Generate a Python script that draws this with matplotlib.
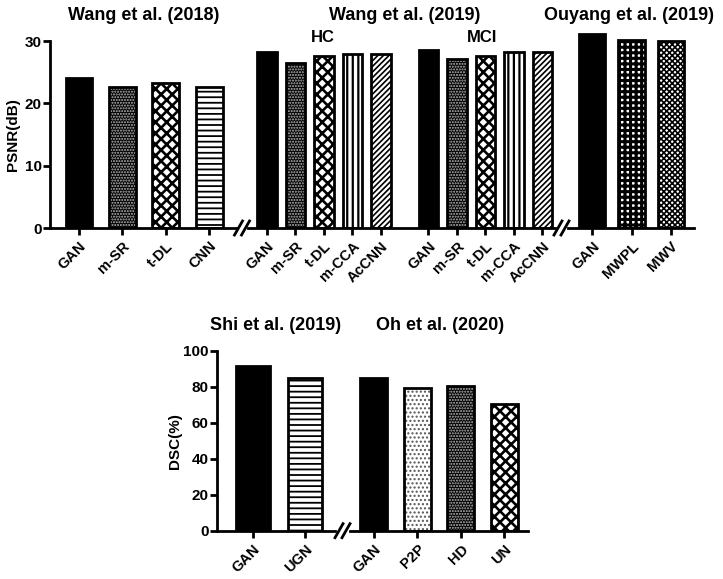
import matplotlib.pyplot as plt
from matplotlib.lines import Line2D

plt.rcParams['font.family'] = ['Liberation Sans', 'DejaVu Sans']
plt.rcParams['font.weight'] = 'bold'

# PSNR values (dB)
wang18_labels = ["GAN", "m-SR", "t-DL", "CNN"]
wang18_psnr = [24.1, 22.6, 23.2, 22.7]

wang19_labels = ["GAN", "m-SR", "t-DL", "m-CCA", "AcCNN"]
wang19_hc = [28.3, 26.5, 27.6, 28.0, 28.0]
wang19_mci = [28.6, 27.1, 27.6, 28.2, 28.2]

ouyang_labels = ["GAN", "MWPL", "MWV"]
ouyang_psnr = [31.1, 30.2, 30.0]

# DSC values (%)
shi_labels = ["GAN", "UGN"]
shi_dsc = [91.7, 85.0]

oh_labels = ["GAN", "P2P", "HD", "UN"]
oh_dsc = [84.8, 79.4, 80.6, 70.6]

# fill style per method: (facecolor, hatch, hatch colour, hatch linewidth)
styles = {
    "GAN": ("black", None, "black", 1.0),
    "m-SR": ("black", "......", "#bbbbbb", 1.0),
    "HD": ("black", "......", "#bbbbbb", 1.0),
    "t-DL": ("white", "xxx", "black", 1.9),
    "UN": ("white", "xxx", "black", 1.9),
    "CNN": ("white", "---", "black", 1.3),
    "UGN": ("white", "---", "black", 1.3),
    "m-CCA": ("white", "|||", "black", 1.6),
    "AcCNN": ("white", "//////", "black", 1.2),
    "MWPL": ("white", "+++", "black", 2.2),
    "MWV": ("white", "xxxxxx", "black", 1.2),
    "P2P": ("white", "....", "#555555", 1.0),
}

W, H = 723, 579
fig = plt.figure(figsize=(W / 100, H / 100), dpi=100)


def px_axes(x0, x1, y0, y1):
    # pixel box -> figure fraction axes
    return fig.add_axes([x0 / W, 1 - y0 / H, (x1 - x0) / W, (y0 - y1) / H])


def draw_bars(ax, pos, vals, labels, width):
    for x, v, lab in zip(pos, vals, labels):
        fc, hatch, hc, hlw = styles[lab]
        with plt.rc_context({'hatch.linewidth': hlw}):
            ax.bar(x, v, width, color=fc, edgecolor=hc, hatch=hatch, lw=0)
        ax.bar(x, v, width, fill=False, edgecolor="black", lw=2)
    ax.set_xticks(pos)
    ax.set_xticklabels(labels, rotation=45, ha="right", rotation_mode="anchor",
                       fontsize=10.5, fontweight="bold")


def style_axes(ax, ylim, ymax_spine, show_y):
    ax.set_ylim(0, ylim)
    for s in ["top", "right"]:
        ax.spines[s].set_visible(False)
    ax.spines["bottom"].set_linewidth(2)
    ax.spines["left"].set_linewidth(2)
    ax.spines["left"].set_bounds(0, ymax_spine)
    ax.tick_params(axis="x", length=5, width=2, pad=3)
    ax.tick_params(axis="y", length=5, width=2, labelsize=11, pad=1)
    if not show_y:
        ax.spines["left"].set_visible(False)
        ax.tick_params(axis="y", left=False, labelleft=False)
    ax.patch.set_alpha(0)


def break_mark(ax_a, ax_b):
    pa = ax_a.get_position()
    pb = ax_b.get_position()
    xc = (pa.x1 + pb.x0) / 2 * W
    yc = (1 - pa.y0) * H
    for dx in (-3.5, 3.5):
        x = xc + dx
        fig.add_artist(Line2D([(x - 4) / W, (x + 4) / W],
                              [1 - (yc + 7) / H, 1 - (yc - 7) / H],
                              color="black", lw=2))


# ---- top row: PSNR
ax1 = px_axes(50, 236, 228, 28.6)
ax2 = px_axes(248, 555, 228, 28.6)
ax3 = px_axes(568, 694, 228, 28.6)

draw_bars(ax1, range(len(wang18_labels)), wang18_psnr, wang18_labels, 0.62)
ax1.set_xlim(-0.67, 3.62)
style_axes(ax1, 32, 30, True)
ax1.set_yticks([0, 10, 20, 30])
ax1.set_ylabel("PSNR(dB)", fontsize=11, fontweight="bold")
ax1.yaxis.set_label_coords(-0.16, 0.47)

hc_pos = list(range(5))
mci_pos = [p + 5.66 for p in hc_pos]
draw_bars(ax2, hc_pos + mci_pos, wang19_hc + wang19_mci,
          wang19_labels + wang19_labels, 0.68)
ax2.set_xlim(-0.66, 10.1)
style_axes(ax2, 32, 30, False)

draw_bars(ax3, range(len(ouyang_labels)), ouyang_psnr, ouyang_labels, 0.67)
ax3.set_xlim(-0.62, 2.59)
style_axes(ax3, 32, 30, False)

break_mark(ax1, ax2)
break_mark(ax2, ax3)

fig.text(144 / W, 1 - 15 / H, "Wang et al. (2018)", ha="center", va="center",
         fontsize=13, fontweight="bold")
fig.text(405 / W, 1 - 15 / H, "Wang et al. (2019)", ha="center", va="center",
         fontsize=13, fontweight="bold")
fig.text(629 / W, 1 - 15 / H, "Ouyang et al. (2019)", ha="center", va="center",
         fontsize=13, fontweight="bold")
fig.text(323 / W, 1 - 38 / H, "HC", ha="center", va="center",
         fontsize=12, fontweight="bold")
fig.text(482 / W, 1 - 38 / H, "MCI", ha="center", va="center",
         fontsize=12, fontweight="bold")

# ---- bottom row: DSC
ax4 = px_axes(217, 335, 530.7, 350.7)
ax5 = px_axes(350, 528, 530.7, 350.7)

draw_bars(ax4, range(len(shi_labels)), shi_dsc, shi_labels, 0.65)
ax4.set_xlim(-0.69, 1.58)
style_axes(ax4, 100, 100, True)
ax4.set_yticks([0, 20, 40, 60, 80, 100])
ax4.set_ylabel("DSC(%)", fontsize=11, fontweight="bold")
ax4.yaxis.set_label_coords(-0.30, 0.5)

draw_bars(ax5, range(len(oh_labels)), oh_dsc, oh_labels, 0.62)
ax5.set_xlim(-0.55, 3.54)
style_axes(ax5, 100, 100, False)

break_mark(ax4, ax5)

fig.text(276 / W, 1 - 325 / H, "Shi et al. (2019)", ha="center", va="center",
         fontsize=13, fontweight="bold")
fig.text(440 / W, 1 - 325 / H, "Oh et al. (2020)", ha="center", va="center",
         fontsize=13, fontweight="bold")

fig.savefig("out.png", dpi=100, facecolor="white")
